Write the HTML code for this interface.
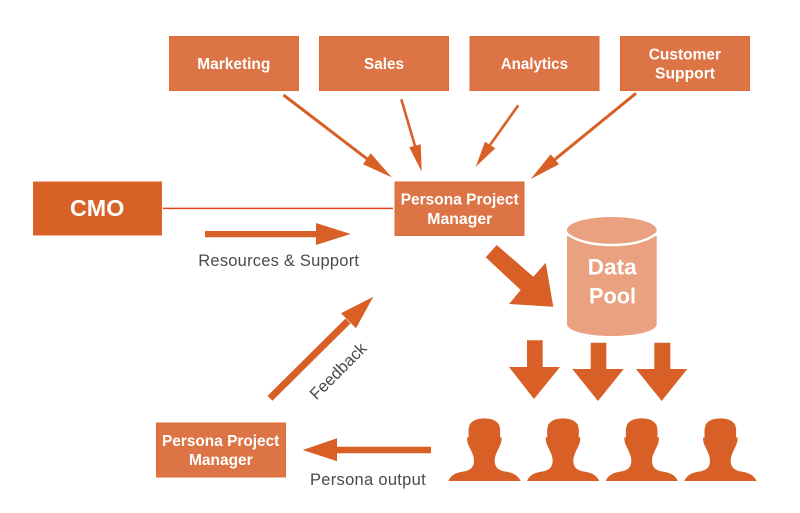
<!DOCTYPE html>
<html>
<head>
<meta charset="utf-8">
<style>
html,body{margin:0;padding:0;background:#fff;width:800px;height:513px;overflow:hidden}
svg{display:block}
text{font-family:"Liberation Sans",Arial,sans-serif}
.b{fill:#fff;font-weight:bold;font-size:15.5px}
.l{fill:#4a4a4a;font-size:16.5px}
.r{fill:#dc7445;stroke:#e26c33;stroke-width:1}
.a{fill:#d86027;stroke:none}
.s{stroke:#d86027;fill:none}
</style>
</head>
<body>
<svg width="800" height="513" viewBox="0 0 800 513" xmlns="http://www.w3.org/2000/svg">
<defs>
<path id="p" d="M55 243 C62 226 78 218 98 215 C120 212 131 203 132 184 C132 174 130 168 127 160 C123 150 119 144 116 136 C113 131 111 122 111 113 L116 112 C115 95 115 85 119 74 C127 60 145 55 163 55 C181 55 199 60 207 74 C211 85 211 95 210 112 L215 113 C215 122 213 131 210 136 C207 144 203 150 199 160 C196 168 194 174 194 184 C195 203 206 212 228 215 C248 218 264 226 272 243 Z"/>
</defs>
<rect width="800" height="513" fill="#fff"/>

<!-- top boxes -->
<rect class="r" x="169.5" y="36.5" width="129" height="54"/>
<rect class="r" x="319.5" y="36.5" width="129" height="54"/>
<rect class="r" x="470" y="36.5" width="129" height="54"/>
<rect class="r" x="620.5" y="36.5" width="129" height="54"/>
<text class="b" x="197.3" y="69" textLength="73" lengthAdjust="spacingAndGlyphs">Marketing</text>
<text class="b" x="364" y="69" textLength="40" lengthAdjust="spacingAndGlyphs">Sales</text>
<text class="b" x="500.7" y="69" textLength="67.3" lengthAdjust="spacingAndGlyphs">Analytics</text>
<text class="b" x="648.7" y="59.5" textLength="72.3" lengthAdjust="spacingAndGlyphs">Customer</text>
<text class="b" x="655" y="78.5" textLength="60" lengthAdjust="spacingAndGlyphs">Support</text>

<!-- CMO -->
<rect x="33.5" y="182" width="128" height="53" fill="#d86127" stroke="#e0662c"/>
<text x="70" y="216" fill="#fff" font-weight="bold" font-size="23" textLength="54.3" lengthAdjust="spacingAndGlyphs">CMO</text>
<line x1="163" y1="208.4" x2="393" y2="208.4" stroke="#e2441c" stroke-width="1.5"/>

<!-- PPM top -->
<rect class="r" x="395" y="182" width="129" height="53.5"/>
<text class="b" x="400.7" y="204.5" textLength="118" lengthAdjust="spacingAndGlyphs">Persona Project</text>
<text class="b" x="427.3" y="224" textLength="65" lengthAdjust="spacingAndGlyphs">Manager</text>

<!-- top arrows -->
<line class="s" x1="283.5" y1="95" x2="367" y2="158.8" stroke-width="3"/>
<polygon class="a" points="391.7,177.3 370.7,153.3 363,164.3"/>
<line class="s" x1="401.3" y1="99.3" x2="415" y2="146" stroke-width="2.6"/>
<polygon class="a" points="421.7,171.7 409.3,147.3 420.7,144.3"/>
<line class="s" x1="518.3" y1="105.3" x2="490" y2="145" stroke-width="2.6"/>
<polygon class="a" points="475.7,166.7 485,141.7 495.3,148.3"/>
<line class="s" x1="636" y1="93.3" x2="555" y2="159.3" stroke-width="3"/>
<polygon class="a" points="530.7,179 550.7,154.3 559,164.3"/>

<!-- resources arrow -->
<polygon class="a" points="205,231 316,231 316,223 350.7,234 316,245 316,237.3 205,237.3"/>
<text class="l" x="198.3" y="266" textLength="160.7" lengthAdjust="spacing">Resources &amp; Support</text>

<!-- big diagonal arrow -->
<polygon class="a" points="496.7,245 485.7,257.3 520.7,290 509,304 553.3,306.7 545.7,262.7 533.3,276.7"/>

<!-- cylinder -->
<path d="M567 236 V324 C567 331 587 336 611.8 336 C637 336 656.7 331 656.7 324 V236 Z" fill="#e9a180"/>
<ellipse cx="611.8" cy="230" rx="44.9" ry="13" fill="#e9a180"/>
<path d="M565.5 232.5 C575 241 592 245 611.8 245 C632 245 648 241 658 232.5" fill="none" stroke="#fff" stroke-width="2.4"/>
<text x="587.7" y="274.5" fill="#fff" font-weight="bold" font-size="22.5" textLength="49" lengthAdjust="spacingAndGlyphs">Data</text>
<text x="589" y="303.5" fill="#fff" font-weight="bold" font-size="22" textLength="47" lengthAdjust="spacingAndGlyphs">Pool</text>

<!-- down arrows -->
<polygon class="a" points="527,340.3 542.7,340.3 542.7,367 560,367 534,399 509,367 527,367"/>
<polygon class="a" points="590.7,342.7 606.3,342.7 606.3,369 623.7,369 598,401 572.3,369 590.7,369"/>
<polygon class="a" points="654.3,342.7 670.3,342.7 670.3,369 687.3,369 661.7,401 636,369 654.3,369"/>

<!-- persons -->
<g transform="translate(430,400) scale(.33333)" class="a">
<use href="#p"/>
<use href="#p" x="236"/>
<use href="#p" x="472"/>
<use href="#p" x="708"/>
</g>

<!-- persona output arrow -->
<polygon class="a" points="431,446.7 337,446.7 337,438.3 302.7,450 337,461.3 337,453.3 431,453.3"/>
<text class="l" x="310" y="485" textLength="115.7" lengthAdjust="spacing">Persona output</text>

<!-- PPM bottom -->
<rect class="r" x="156.5" y="423" width="129" height="54"/>
<text class="b" x="162" y="446" textLength="117.3" lengthAdjust="spacingAndGlyphs">Persona Project</text>
<text class="b" x="189" y="465" textLength="63.7" lengthAdjust="spacingAndGlyphs">Manager</text>

<!-- feedback arrow -->
<line class="s" x1="270" y1="398.3" x2="348" y2="321" stroke-width="7"/>
<polygon class="a" points="373.3,296.7 341,313.3 356,328.3"/>
<text class="l" transform="translate(342,375) rotate(-45)" text-anchor="middle" x="0" y="0">Feedback</text>
</svg>
</body>
</html>
